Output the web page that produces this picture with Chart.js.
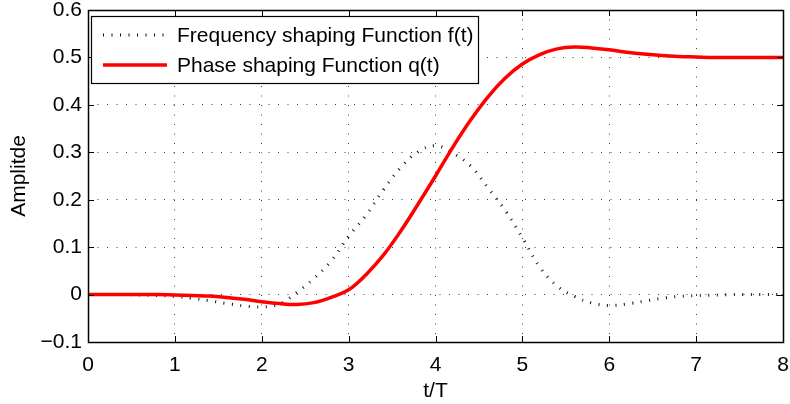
<!DOCTYPE html>
<html>
<head>
<meta charset="utf-8">
<script src="https://cdn.jsdelivr.net/npm/chart.js@4.4.1/dist/chart.umd.min.js"></script>
<style>
  html, body { margin: 0; padding: 0; background: #fff; }
  #wrap { width: 790px; height: 404px; }
</style>
</head>
<body>
<div id="wrap"><canvas id="shapingChart" width="790" height="404"></canvas></div>
<script>
// t/T sample points (step 0.2)
const tValues = [
  0, 0.2, 0.4, 0.6, 0.8, 1.0, 1.2, 1.4, 1.6, 1.8,
  2.0, 2.2, 2.4, 2.6, 2.8, 3.0, 3.2, 3.4, 3.6, 3.8,
  4.0, 4.2, 4.4, 4.6, 4.8, 5.0, 5.2, 5.4, 5.6, 5.8,
  6.0, 6.2, 6.4, 6.6, 6.8, 7.0, 7.2, 7.4, 7.6, 7.8, 8.0
];

// Frequency shaping Function f(t)
const fValues = [
  0, 0, 0, -0.001, -0.002, -0.004, -0.008, -0.013, -0.019, -0.024,
  -0.026, -0.02, 0.004, 0.034, 0.071, 0.123, 0.167, 0.221, 0.268, 0.301,
  0.314, 0.298, 0.272, 0.226, 0.178, 0.12, 0.058, 0.018, -0.004, -0.018,
  -0.023, -0.02, -0.014, -0.008, -0.004, -0.002, -0.001, 0, 0, 0, 0
];

// Phase shaping Function q(t)
const qValues = [
  0, 0, 0, 0, 0, -0.001, -0.002, -0.003, -0.006, -0.01,
  -0.015, -0.019, -0.021, -0.017, -0.006, 0.01, 0.042, 0.083, 0.134, 0.191,
  0.25, 0.311, 0.367, 0.416, 0.456, 0.486, 0.506, 0.518, 0.522, 0.52,
  0.516, 0.511, 0.507, 0.504, 0.502, 0.501, 0.5, 0.5, 0.5, 0.5, 0.5
];

const xTicks = [0, 1, 2, 3, 4, 5, 6, 7, 8];
const yTicks = [-0.1, 0, 0.1, 0.2, 0.3, 0.4, 0.5, 0.6];

const seriesNames = ['Frequency shaping Function f(t)', 'Phase shaping Function q(t)'];

const FONT = "'Liberation Sans', Arial, Helvetica, sans-serif";
const FSIZE = 21;

function fmtTick(v) {
  if (v === 0) return '0';
  const s = Math.abs(v).toFixed(1);
  return v < 0 ? '\u2212' + s : s;
}

// box round the axes + inward ticks (matlab style)
const boxPlugin = {
  id: 'boxPlugin',
  afterDatasetsDraw(chart) {
    const { ctx, chartArea: a, scales } = chart;
    ctx.save();
    ctx.strokeStyle = '#000';
    ctx.lineWidth = 1;
    ctx.beginPath();
    xTicks.forEach(v => {
      const x = Math.round(scales.x.getPixelForValue(v)) + 0.5;
      ctx.moveTo(x, a.bottom); ctx.lineTo(x, a.bottom - 6);
      ctx.moveTo(x, a.top); ctx.lineTo(x, a.top + 6);
    });
    yTicks.forEach(v => {
      const y = Math.round(scales.y.getPixelForValue(v)) + 0.5;
      ctx.moveTo(a.left, y); ctx.lineTo(a.left + 6, y);
      ctx.moveTo(a.right, y); ctx.lineTo(a.right - 6, y);
    });
    ctx.stroke();
    ctx.lineWidth = 1.5;
    ctx.strokeRect(Math.round(a.left) + 0.5, Math.round(a.top) + 0.5,
      Math.round(a.right - a.left), Math.round(a.bottom - a.top));
    ctx.restore();
  }
};

// legend box inside the plot, top-left
const legendPlugin = {
  id: 'legendPlugin',
  afterDraw(chart) {
    const { ctx, chartArea: a } = chart;
    const bx = Math.round(a.left) + 3, by = Math.round(a.top) + 6, bw = 387, bh = 67;
    ctx.save();
    ctx.fillStyle = '#fff';
    ctx.fillRect(bx, by, bw, bh);
    ctx.strokeStyle = '#000';
    ctx.lineWidth = 1.2;
    ctx.strokeRect(bx + 0.5, by + 0.5, bw, bh);

    ctx.font = FSIZE + 'px ' + FONT;
    ctx.textBaseline = 'middle';
    ctx.fillStyle = '#000';
    chart.data.datasets.forEach((ds, i) => {
      const y = by + 19 + i * 30;
      ctx.save();
      ctx.strokeStyle = ds.borderColor;
      ctx.lineWidth = ds.borderWidth;
      ctx.setLineDash(ds.borderDash || []);
      ctx.beginPath();
      ctx.moveTo(bx + 12, y);
      ctx.lineTo(bx + 76, y);
      ctx.stroke();
      ctx.restore();
      ctx.fillText(seriesNames[i], bx + 86, y + 1);
    });
    ctx.restore();
  }
};

document.addEventListener('DOMContentLoaded', function () {
  const cv = document.getElementById('shapingChart');

  new Chart(cv.getContext('2d'), {
    type: 'line',
    data: {
      datasets: [
        {
          label: seriesNames[0],
          data: tValues.map((t, i) => ({ x: t, y: fValues[i] })),
          borderColor: '#111',
          borderWidth: 3,
          borderDash: [1, 7.5],
          pointRadius: 0,
          tension: 0.4,
          fill: false,
          order: 1
        },
        {
          label: seriesNames[1],
          data: tValues.map((t, i) => ({ x: t, y: qValues[i] })),
          borderColor: '#ff0000',
          borderWidth: 3.5,
          pointRadius: 0,
          tension: 0.4,
          fill: false,
          order: 0
        }
      ]
    },
    options: {
      responsive: false,
      animation: false,
      events: [],
      layout: { padding: { top: 10, right: 7, left: 0, bottom: 0 } },
      plugins: {
        legend: { display: false },
        tooltip: { enabled: false }
      },
      scales: {
        x: {
          type: 'linear',
          min: 0, max: 8,
          afterBuildTicks: s => { s.ticks = xTicks.map(v => ({ value: v })); },
          afterFit: s => { s.height = 62; s.paddingLeft = 0; s.paddingRight = 0; },
          grid: { color: 'rgba(0,0,0,0.75)', lineWidth: 1, drawTicks: false },
          border: { display: false, dash: [1, 8.5] },
          ticks: {
            color: '#000', padding: 11, maxRotation: 0,
            font: { family: FONT, size: FSIZE },
            callback: v => String(v)
          },
          title: {
            display: true, text: 't/T', color: '#000',
            font: { family: FONT, size: FSIZE },
            padding: { top: 0, bottom: 0 }
          }
        },
        y: {
          type: 'linear',
          min: -0.1, max: 0.6,
          afterBuildTicks: s => { s.ticks = yTicks.map(v => ({ value: v })); },
          afterFit: s => { s.width = 88; s.paddingTop = 0; s.paddingBottom = 0; },
          grid: { color: 'rgba(0,0,0,0.75)', lineWidth: 1, drawTicks: false },
          border: { display: false, dash: [1, 8.5] },
          ticks: {
            color: '#000', padding: 6,
            font: { family: FONT, size: FSIZE, lineHeight: 1 },
            callback: v => fmtTick(v)
          },
          title: {
            display: true, text: 'Amplitde', color: '#000',
            font: { family: FONT, size: FSIZE },
            padding: { top: 7, bottom: 0 }
          }
        }
      }
    },
    plugins: [boxPlugin, legendPlugin]
  });
});
</script>
</body>
</html>
